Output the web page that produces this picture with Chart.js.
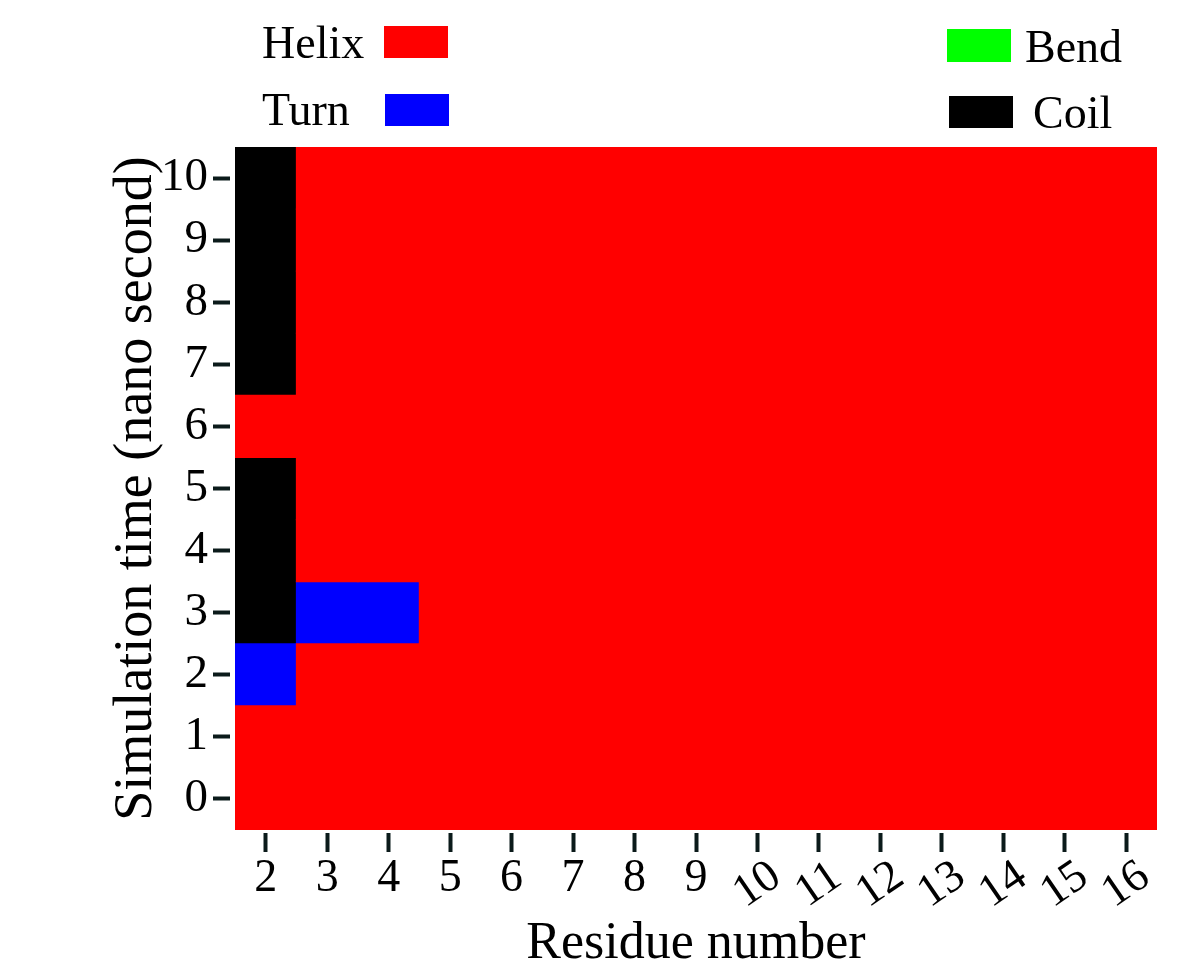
<!DOCTYPE html>
<html>
<head>
<meta charset="utf-8">
<script src="https://cdn.jsdelivr.net/npm/chart.js@4"></script>
<style>
  body { margin: 0; background: #fff; }
</style>
</head>
<body>
<canvas id="myChart" width="1200" height="980"></canvas>
<script>
const residues = ['2', '3', '4', '5', '6', '7', '8', '9', '10', '11', '12', '13', '14', '15', '16'];
const times = [0, 1, 2, 3, 4, 5, 6, 7, 8, 9, 10];
const stateCodes = ['H', 'T', 'B', 'C'];
const stateNames = ['Helix', 'Turn', 'Bend', 'Coil'];
const stateColors = ['#ff0000', '#0000ff', '#00ff00', '#000000'];

// secondary structure, one row per time (ns), one code per residue
const secondary = [
  ['H','H','H','H','H','H','H','H','H','H','H','H','H','H','H'], // 0
  ['H','H','H','H','H','H','H','H','H','H','H','H','H','H','H'], // 1
  ['T','H','H','H','H','H','H','H','H','H','H','H','H','H','H'], // 2
  ['C','T','T','H','H','H','H','H','H','H','H','H','H','H','H'], // 3
  ['C','H','H','H','H','H','H','H','H','H','H','H','H','H','H'], // 4
  ['C','H','H','H','H','H','H','H','H','H','H','H','H','H','H'], // 5
  ['H','H','H','H','H','H','H','H','H','H','H','H','H','H','H'], // 6
  ['C','H','H','H','H','H','H','H','H','H','H','H','H','H','H'], // 7
  ['C','H','H','H','H','H','H','H','H','H','H','H','H','H','H'], // 8
  ['C','H','H','H','H','H','H','H','H','H','H','H','H','H','H'], // 9
  ['C','H','H','H','H','H','H','H','H','H','H','H','H','H','H']  // 10
];

const serif = '"Liberation Serif", "Times New Roman", serif';

// one floating-bar dataset per state
const datasets = stateCodes.map((code, s) => {
  const cells = [];
  times.forEach((t, ti) => {
    residues.forEach((r, ri) => {
      if (secondary[ti][ri] === code) cells.push({ x: r, y: [t - 0.5, t + 0.5] });
    });
  });
  return {
    label: stateNames[s],
    data: cells,
    backgroundColor: stateColors[s],
    borderWidth: 0,
    inflateAmount: 0.6,
    grouped: false,
    barPercentage: 1,
    categoryPercentage: 1
  };
});

// legend drawn at the top, two items left and two right
const legendPlugin = {
  id: 'cornerLegend',
  afterDraw(chart) {
    const ctx = chart.ctx;
    ctx.save();
    ctx.font = '46px ' + serif;
    ctx.textBaseline = 'alphabetic';
    ctx.fillStyle = '#000';
    // left side: text then box
    ctx.textAlign = 'left';
    ctx.fillText(stateNames[0], 262, 58);
    ctx.fillText(stateNames[1], 262, 125);
    ctx.fillStyle = stateColors[0];
    ctx.fillRect(384, 26, 64, 32);
    ctx.fillStyle = stateColors[1];
    ctx.fillRect(385, 94, 64, 32);
    // right side: box then text
    ctx.fillStyle = stateColors[2];
    ctx.fillRect(947, 29, 64, 33);
    ctx.fillStyle = stateColors[3];
    ctx.fillRect(949, 96, 64, 32);
    ctx.fillStyle = '#000';
    ctx.fillText(stateNames[2], 1025, 62);
    ctx.fillText(stateNames[3], 1033, 128);
    ctx.restore();
  }
};

// x tick labels: two-digit residues are drawn slanted
const xLabelPlugin = {
  id: 'slantLabels',
  afterDraw(chart) {
    const ctx = chart.ctx;
    const xs = chart.scales.x;
    ctx.save();
    ctx.font = '46px ' + serif;
    ctx.fillStyle = '#000';
    ctx.textAlign = 'center';
    ctx.textBaseline = 'middle';
    residues.forEach((r, i) => {
      const px = xs.getPixelForTick(i);
      ctx.save();
      ctx.translate(px, r.length > 1 ? 885 : 879);
      if (r.length > 1) ctx.rotate(-0.6);
      ctx.fillText(r, 0, 0);
      ctx.restore();
    });
    ctx.restore();
  }
};

const ctx = document.getElementById('myChart');
const myChart = new Chart(ctx, {
  type: 'bar',
  data: {
    labels: residues,
    datasets: datasets
  },
  options: {
    responsive: false,
    animation: false,
    devicePixelRatio: 1,
    layout: { padding: { left: 100, top: 147, right: 43, bottom: 0 } },
    plugins: {
      legend: { display: false },
      tooltip: { enabled: false }
    },
    scales: {
      x: {
        type: 'category',
        offset: true,
        border: { display: false },
        grid: {
          offset: false,
          drawOnChartArea: false,
          drawTicks: true,
          tickLength: 22,
          tickWidth: 4,
          tickColor: '#0b1a1a',
          tickBorderDash: [19, 100],
          tickBorderDashOffset: 116
        },
        ticks: { display: false, autoSkip: false },
        title: {
          display: true,
          text: 'Residue number',
          color: '#000',
          font: { family: serif, size: 52 },
          padding: { top: 4, bottom: 4 }
        },
        afterFit: s => { s.height = 150; }
      },
      y: {
        type: 'linear',
        min: -0.5,
        max: 10.5,
        border: { display: false },
        grid: {
          drawOnChartArea: false,
          drawTicks: true,
          tickLength: 22,
          tickWidth: 4,
          tickColor: '#0b1a1a',
          tickBorderDash: [17, 100]
        },
        afterBuildTicks: s => { s.ticks = times.map(v => ({ value: v })); },
        ticks: {
          color: '#000',
          padding: 5,
          font: { family: serif, size: 47 }
        },
        title: {
          display: true,
          text: 'Simulation time (nano second)',
          color: '#000',
          font: { family: serif, size: 54 },
          padding: { top: 4, bottom: 4 }
        },
        afterFit: s => { s.width = 135; }
      }
    }
  },
  plugins: [legendPlugin, xLabelPlugin]
});
</script>
</body>
</html>
